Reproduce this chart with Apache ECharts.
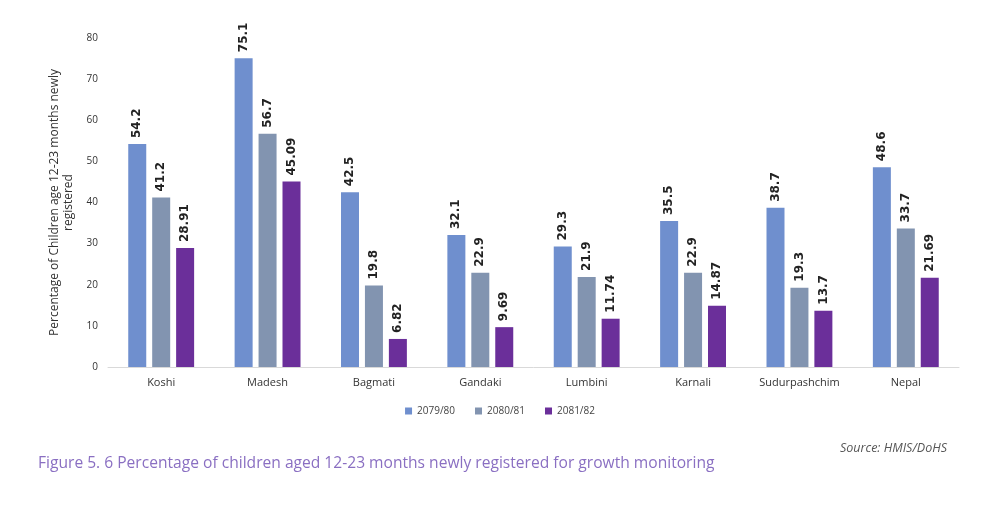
<!DOCTYPE html>
<html>
<head>
<meta charset="utf-8">
<script src="https://cdn.jsdelivr.net/npm/echarts@6/dist/echarts.min.js"></script>
<style>
  html, body { margin: 0; padding: 0; background: #fff; }
  #chart { width: 1000px; height: 519px; }
</style>
</head>
<body>
<div id="chart"></div>
<script>
// provinces on the x axis
var provinces = ["Koshi", "Madesh", "Bagmati", "Gandaki", "Lumbini", "Karnali", "Sudurpashchim", "Nepal"];
var yearNames = ["2079/80", "2080/81", "2081/82"];
var v2079 = [54.2, 75.1, 42.5, 32.1, 29.3, 35.5, 38.7, 48.6];
var v2080 = [41.2, 56.7, 19.8, 22.9, 21.9, 22.9, 19.3, 33.7];
var v2081 = [28.91, 45.09, 6.82, 9.69, 11.74, 14.87, 13.7, 21.69];
var colors = ["#6f8fce", "#8294b0", "#6b2f9a"];

var seriesValues = [v2079, v2080, v2081];
var series_data = [];
for (let i = 0; i < yearNames.length; i++) {
  series_data.push({
    name: yearNames[i],
    type: "bar",
    data: seriesValues[i],
    barWidth: 18,
    barGap: "33%",
    itemStyle: { color: colors[i] },
    label: {
      show: true,
      position: "top",
      rotate: 90,
      align: "left",
      verticalAlign: "middle",
      distance: 6,
      fontFamily: "DejaVu Sans",
      fontWeight: "bold",
      fontSize: 12,
      color: "#222"
    }
  });
}

var myChart = echarts.init(document.getElementById("chart"));
myChart.setOption({
  animation: false,
  textStyle: { fontFamily: "Open Sans" },
  grid: { left: 108, right: 41, top: 38, bottom: 152 },
  legend: {
    data: yearNames,
    bottom: 98,
    left: "center",
    itemWidth: 7,
    itemHeight: 7,
    itemGap: 20,
    icon: "rect",
    textStyle: { fontSize: 10, color: "#444" }
  },
  xAxis: {
    type: "category",
    data: provinces,
    axisLine: { lineStyle: { color: "#d9d9d9" } },
    axisTick: { show: false },
    axisLabel: { fontSize: 11, color: "#333", margin: 10 }
  },
  yAxis: {
    type: "value",
    min: 0,
    max: 80,
    interval: 10,
    name: "Percentage of Children age 12-23 months newly\nregistered",
    nameLocation: "middle",
    nameRotate: 90,
    nameGap: 30,
    nameTextStyle: { fontSize: 12, color: "#333", lineHeight: 14 },
    splitLine: { show: false },
    axisLine: { show: false },
    axisTick: { show: false },
    axisLabel: { fontSize: 10, color: "#333", margin: 10 }
  },
  graphic: [
    {
      type: "text",
      left: 840,
      top: 442,
      style: { text: "Source: HMIS/DoHS", fontSize: 12.5, fontStyle: "italic", fill: "#555", fontFamily: "Open Sans" }
    },
    {
      type: "text",
      left: 38,
      top: 456,
      style: {
        text: "Figure 5. 6 Percentage of children aged 12-23 months newly registered for growth monitoring",
        fontSize: 15.6,
        fill: "#8a6fc2",
        fontFamily: "Open Sans"
      }
    }
  ],
  series: series_data
});
</script>
</body>
</html>
